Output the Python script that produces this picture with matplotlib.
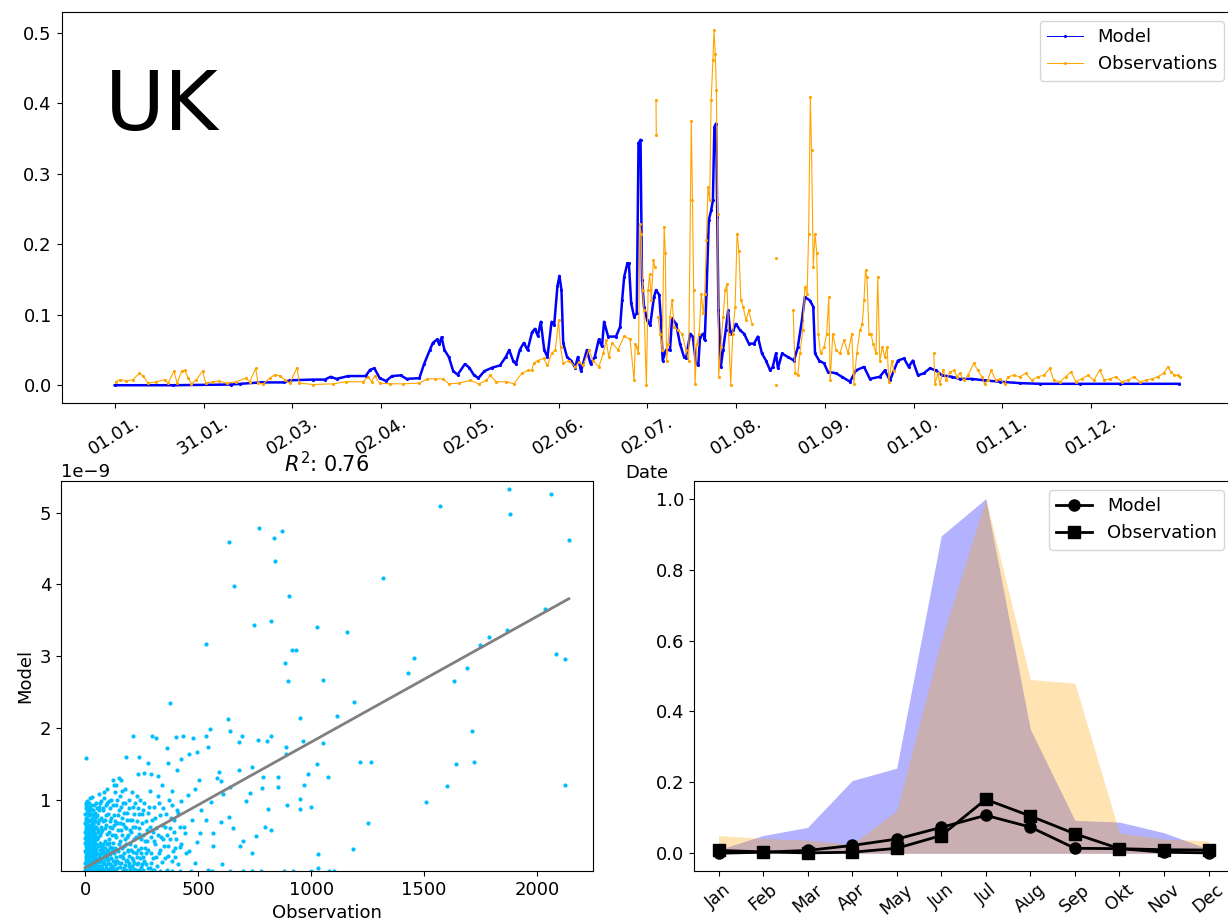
import numpy as np
import matplotlib
matplotlib.use('Agg')
import matplotlib.pyplot as plt

nan = np.nan

model_day = [0, 20, 40, 43, 50, 58, 60, 68, 72, 74, 76, 80, 86, 87.5, 89, 90.8, 93, 95, 98, 100,
             104.4, 106, 108, 109, 110.5, 111.2, 112, 113, 114.5, 116, 117.5, 120, 121.5, 123, 124.6,
             126.7, 129.4, 132, 134, 135.2, 136.5, 137.5, 138.8, 140.2, 141.5, 143, 144, 145, 146,
             147.2, 148.3, 149.7, 150.6, 151.7, 152.4, 153.1, 153.7, 155, 156.4, 157.8, 158.7, 159.8,
             161.8, 163.1, 164.5, 165.9, 167.0, 167.7, 169.1, 171.8, 173.2, 173.9, 174.6, 175.7, 176.2,
             177.0, 178.0, 178.9, 179.5, 180.2, 180.7, 181.4, 182.5, 183.5, 184.8, 185.5, 186.6, 187.2,
             187.8, 188.9, 190.3, 191.0, 192.4, 193.7, 195.1, 195.8, 197.2, 198.1, 199.2, 200.0, 200.6,
             201.7, 202.2, 202.8, 203.6, 204.4, 205.0, 205.5, 206.1, 206.5, 206.9, 207.7, 208.5, 209.4,
             210.2, 211.0, 212.0, 212.9, 214.3, 215.7, 217.3, 219.1, 220.4, 221.8, 223.2, 224.6, 225.5,
             226.6, 227.3, 228.7, 230.7, 232.8, 234.1, 235.5, 236.5, 238.3, 239.4, 240.0, 241.4, 243.1,
             244.4, 247.2, 249.2, 252.0, 254.0, 256.8, 258.8, 262.2, 263.9, 265.7, 268.4, 270.5, 272.1,
             273.5, 275.3, 277.3, 279.4, 281.4, 283.5, 286.9, 289.6, 293.7, 297.9, 303.3, 310.2, 317.0,
             330.7, 344.4, 364.9]
model_val = [0.0, 0.0, 0.001, 0.002, 0.004, 0.004, 0.007, 0.008, 0.008, 0.012, 0.009, 0.013, 0.013, 0.022,
             0.024, 0.01, 0.006, 0.013, 0.014, 0.009,
             0.01, 0.03, 0.05, 0.06, 0.065, 0.058, 0.068, 0.05, 0.04, 0.02, 0.015, 0.03, 0.025, 0.015, 0.01,
             0.02, 0.025, 0.028, 0.04, 0.05, 0.035, 0.03, 0.05, 0.06, 0.05, 0.075, 0.08, 0.07, 0.09,
             0.05, 0.04, 0.09, 0.085, 0.14, 0.155, 0.135, 0.06, 0.04, 0.035, 0.025, 0.04, 0.02,
             0.05, 0.03, 0.04, 0.065, 0.055, 0.09, 0.069, 0.069, 0.083, 0.121, 0.154, 0.173, 0.173,
             0.116, 0.097, 0.102, 0.343, 0.348, 0.149, 0.111, 0.092, 0.085, 0.125, 0.135, 0.128, 0.092,
             0.035, 0.05, 0.05, 0.095, 0.087, 0.059, 0.04, 0.038, 0.073, 0.069, 0.031, 0.028, 0.069,
             0.073, 0.064, 0.13, 0.234, 0.248, 0.262, 0.366, 0.371, 0.239, 0.106, 0.026, 0.05, 0.078,
             0.106, 0.073, 0.078, 0.087, 0.078, 0.073, 0.059, 0.059, 0.069, 0.045, 0.035, 0.021, 0.026,
             0.045, 0.024, 0.045, 0.04, 0.035, 0.054, 0.092, 0.125, 0.12, 0.111, 0.045, 0.035, 0.031,
             0.019, 0.017, 0.012, 0.005, 0.021, 0.026, 0.009, 0.012, 0.021, 0.007, 0.035, 0.038, 0.026,
             0.035, 0.014, 0.017, 0.024, 0.021, 0.014, 0.012, 0.009, 0.009, 0.007, 0.005, 0.003, 0.002,
             0.002, 0.002, 0.002]

obs_day = [0.3, 1.8, 4, 6.3, 8.4, 9.7, 11.5, 14.3, 17.2, 18.3, 20.3, 21.4, 22.9, 24, 25.2, 26.3, 28, 30.1,
           31.2, 33.7, 35.8, 38.3, 41.7, 44.9, 46.3, 48.3, 49.1, 50.9, 53.1, 54.9, 56.6, 58.3, 60, 62.5,
           63.2, 68, 74.8, 79.4, 85.1, 86.8, 88, 89.1, 90.8, 94.2, 98.8,
           104.4, 107.1, 109.8, 112.5, 114.5, 117.9, 121.9, 124.7, 127.4, 128.7, 130.7, 134.1, 136.8,
           139.5, 141.6, 142.9, 143.6, 144.9, 147.0, 148.3, 149.7, 151.0, 152.1, 152.8, 153.7, 155.8,
           157.8, 159.1, 160.5, 162.5, 163.9, 165.9,
           167.4, 168.4, 169.3, 170.4, 172.5, 174.6, 176.6, 178.0, 178.4, 178.9, 179.5, 180.0, 180.4,
           180.9, 181.4, 182.2, 182.8, 183.3, 183.9, 184.6, 185.1, 185.3, 185.5, 185.6, 185.8,
           186.2, 186.9, 187.6, 188.3, 188.7, 189.1, 189.6, 190.3, 191.0, 191.7, 193.0, 194.4, 195.8,
           196.7, 197.6, 198.0, 198.4, 198.9, 199.5, 200.3, 201.0, 201.7, 202.2, 202.8, 203.3, 203.9,
           204.4, 205.0, 205.4, 205.8, 206.2, 206.6, 207.0, 207.7, 208.5, 209.2, 209.8, 210.4, 211.1,
           211.8, 212.6, 213.3, 213.9, 214.6, 215.4, 216.3, 217.3, 218.4,
           222.0, 226.6, 226.65, 226.7, 229.0,
           232.5, 233.2, 234.1, 234.8, 235.8, 236.5, 237.3, 237.8, 238.4, 238.8, 239.4, 240.0, 240.6,
           241.1, 241.9, 243.1, 244.0, 244.7, 245.2, 246.1, 247.2, 248.5, 249.9, 251.3, 252.6, 253.3,
           254.3, 255.4, 256.2, 256.8, 257.3, 257.8, 258.5, 259.2, 259.9, 260.9, 261.5, 262.2, 263.1,
           263.9, 264.7, 265.3, 266.3, 267.0, 274.0,
           280.7, 281.1, 282.1, 282.8, 283.9, 285.0, 286.2, 287.6, 288.7, 289.6, 291.0, 292.4, 294.4,
           295.8, 297.2, 298.1, 299.2, 300.3, 302.0, 303.3, 305.0, 306.1, 308.1, 310.2, 312.2, 314.3,
           316.3, 318.4, 320.5, 321.8, 323.9, 325.9, 327.7, 329.4, 331.4, 333.5, 335.5, 337.6, 339.2,
           341.0, 343.1, 345.1, 347.2, 349.2, 351.3, 353.3, 355.4, 357.4, 359.5, 360.9, 362.0, 363.1,
           364.3, 365.0]
obs_val = [0.005, 0.008, 0.006, 0.008, 0.017, 0.013, 0.003, 0.005, 0.008, 0.003, 0.02, 0.003, 0.02, 0.021,
           0.01, 0.002, 0.008, 0.02, 0.003, 0.005, 0.006, 0.003, 0.005, 0.01, 0.005, 0.024, 0.003, 0.002,
           0.01, 0.015, 0.013, 0.008, 0.003, 0.025, 0.003, 0.001, 0.002, 0.005, 0.005, 0.012, 0.005,
           0.013, 0.003, 0.002, 0.002,
           0.003, 0.009, 0.009, 0.009, 0.002, 0.003, 0.007, 0.002, 0.007, 0.014, 0.005, 0.005, 0.002,
           0.017, 0.021, 0.021, 0.031, 0.035, 0.038, 0.028, 0.045, 0.05, 0.092, 0.054, 0.031, 0.035,
           0.026, 0.033, 0.028, 0.05, 0.035, 0.026,
           0.045, 0.064, 0.04, 0.06, 0.05, 0.07, 0.065, 0.007, 0.059, 0.054, 0.045, 0.229, 0.215,
           0.135, 0.106, 0.0, 0.135, 0.158, 0.121, 0.177, 0.168, nan, 0.404, 0.355, nan,
           0.097, 0.073, 0.05, 0.225, 0.187, 0.035, 0.059, 0.097, 0.121, 0.083, 0.078, 0.073, 0.05,
           0.035, 0.374, 0.262, 0.135, 0.002, 0.059, 0.073, 0.13, 0.102, 0.13, 0.206, 0.281, 0.262,
           0.404, 0.461, 0.504, 0.47, 0.418, 0.243, 0.012, 0.054, 0.097, 0.135, 0.144, 0.073, 0.0,
           0.073, 0.111, 0.215, 0.191, 0.121, 0.111, 0.092, 0.106, 0.087,
           nan, 0.18, nan, 0.0, nan,
           0.106, 0.017, 0.014, 0.045, 0.078, 0.139, 0.13, 0.215, 0.409, 0.333, 0.168, 0.215, 0.187,
           0.073, 0.045, 0.054, 0.073, 0.125, 0.007, 0.073, 0.05, 0.045, 0.064, 0.045, 0.073, 0.002,
           0.045, 0.078, 0.087, 0.121, 0.163, 0.154, 0.073, 0.073, 0.059, 0.045, 0.154, 0.035, 0.054,
           0.04, 0.054, 0.005, 0.035, 0.02, nan,
           0.045, 0.002, 0.017, 0.002, 0.021, 0.007, 0.019, 0.021, 0.012, 0.017, 0.007, 0.014, 0.031,
           0.021, 0.012, 0.002, 0.007, 0.021, 0.007, 0.009, 0.002, 0.012, 0.014, 0.012, 0.017, 0.007,
           0.012, 0.014, 0.024, 0.007, 0.005, 0.012, 0.019, 0.005, 0.009, 0.014, 0.007, 0.021, 0.007,
           0.009, 0.012, 0.005, 0.007, 0.012, 0.005, 0.007, 0.009, 0.012, 0.017, 0.026, 0.019, 0.014,
           0.014, 0.012]

tick_labels = ['01.01.', '31.01.', '02.03.', '02.04.', '02.05.', '02.06.',
               '02.07.', '01.08.', '01.09.', '01.10.', '01.11.', '01.12.']

# ---- bottom left: scatter (observation, model in 1e-9) ----
scatter_pts = [
    # dense core
    (1, 0.02), (3, 0.08), (2, 0.15), (4, 0.22), (1, 0.29), (3, 0.36), (2, 0.43), (5, 0.5), (2, 0.58),
    (4, 0.65), (8, 0.03), (9, 0.11), (7, 0.18), (10, 0.25), (8, 0.32), (9, 0.39), (7, 0.46), (10, 0.55),
    (8, 0.62), (14, 0.05), (15, 0.12), (13, 0.2), (16, 0.27), (14, 0.34), (15, 0.41), (13, 0.48),
    (20, 0.02), (21, 0.09), (19, 0.16), (22, 0.23), (20, 0.3), (21, 0.37), (19, 0.44), (27, 0.04),
    (26, 0.12), (28, 0.19), (27, 0.26), (26, 0.33), (28, 0.4), (33, 0.02), (34, 0.09), (32, 0.16),
    (35, 0.23), (33, 0.3), (34, 0.37), (32, 0.44), (40, 0.05), (41, 0.12), (39, 0.2), (42, 0.27),
    (40, 0.34), (41, 0.41), (47, 0.03), (48, 0.1), (46, 0.17), (49, 0.24), (47, 0.31), (48, 0.38),
    (5, 0.06), (11, 0.14), (17, 0.07), (24, 0.17), (30, 0.1), (37, 0.28), (44, 0.15), (6, 0.33),
    (12, 0.42), (23, 0.35), (36, 0.06), (45, 0.45),
    (0, 0.01), (1, 0.12), (2, 0.26), (0, 0.4), (1, 0.47), (3, 0.19), (4, 0.05), (5, 0.3), (6, 0.13),
    (6, 0.45), (7, 0.24), (8, 0.08), (9, 0.35), (10, 0.17), (10, 0.42), (11, 0.03), (11, 0.28),
    (12, 0.21), (12, 0.5), (13, 0.1), (14, 0.38), (16, 0.15), (16, 0.45), (17, 0.31), (18, 0.02),
    (18, 0.22), (19, 0.36), (21, 0.13), (22, 0.42), (23, 0.06), (23, 0.28), (24, 0.48), (25, 0.2),
    (25, 0.38), (26, 0.07), (28, 0.3), (29, 0.14), (29, 0.45), (30, 0.24), (31, 0.37), (32, 0.05),
    (35, 0.15), (36, 0.42), (37, 0.2), (38, 0.33), (39, 0.1), (42, 0.2), (43, 0.44), (44, 0.08), (45, 0.3),
    # upper halo of the core
    (3, 0.72), (6, 0.8), (2, 0.88), (5, 0.95), (9, 0.7), (12, 0.78), (11, 0.9), (15, 0.55), (17, 0.63),
    (18, 0.72), (16, 0.85), (20, 1.02), (23, 0.52), (25, 0.6), (24, 0.7), (27, 0.8), (26, 0.92),
    (30, 1.04), (31, 0.5), (33, 0.58), (35, 0.66), (32, 0.75), (36, 0.86), (38, 0.55), (42, 0.62),
    (40, 0.72), (44, 0.82), (46, 0.95), (45, 0.48), (52, 0.45), (55, 0.55), (58, 0.68), (54, 0.78),
    (60, 0.9), (62, 1.08), (65, 0.5), (68, 0.62), (70, 0.75), (72, 0.98), (75, 0.58), (78, 0.7),
    (80, 0.85), (85, 1.1), (88, 0.6), (92, 0.78), (95, 0.95), (98, 0.52),
    (0, 0.55), (1, 0.68), (0, 0.8), (2, 0.93), (3, 0.6), (4, 0.75), (6, 0.52), (7, 0.66), (7, 0.85),
    (9, 0.58), (10, 0.98), (11, 0.63), (13, 0.72), (13, 0.58), (14, 0.83), (15, 0.95), (17, 0.5),
    (19, 0.78), (20, 0.6), (21, 0.88), (22, 0.7), (24, 0.56), (26, 0.64), (28, 0.55), (29, 0.72),
    (30, 0.86), (33, 0.68), (34, 0.5), (37, 0.6), (38, 0.78), (40, 0.92), (42, 0.52), (43, 0.7),
    (47, 0.6), (48, 0.76), (50, 0.62), (53, 0.88), (56, 0.48), (58, 0.58), (60, 0.72),
    # 50 - 300, low model values
    (52, 0.05), (55, 0.15), (53, 0.25), (57, 0.35), (60, 0.08), (62, 0.2), (64, 0.3), (66, 0.4),
    (70, 0.03), (72, 0.14), (74, 0.26), (76, 0.36), (80, 0.1), (82, 0.22), (84, 0.33), (86, 0.42),
    (90, 0.05), (92, 0.17), (95, 0.28), (98, 0.38), (102, 0.12), (105, 0.24), (108, 0.04), (110, 0.34),
    (115, 0.18), (118, 0.08), (120, 0.28), (125, 0.4), (128, 0.14), (130, 0.02),
    (61, 0.02), (63, 0.13), (65, 0.24), (67, 0.35), (69, 0.08), (71, 0.19), (73, 0.31), (75, 0.05),
    (77, 0.15), (79, 0.27), (81, 0.38), (83, 0.02), (85, 0.12), (87, 0.25), (89, 0.33), (93, 0.09),
    (96, 0.2), (99, 0.02), (100, 0.3), (103, 0.16), (106, 0.4), (109, 0.1), (112, 0.24), (114, 0.02),
    (117, 0.33), (121, 0.15), (123, 0.05), (126, 0.25), (131, 0.32), (133, 0.1), (136, 0.2), (139, 0.04),
    (142, 0.14), (145, 0.28), (149, 0.38), (152, 0.06), (156, 0.22), (159, 0.12), (162, 0.33),
    (166, 0.02), (169, 0.18), (173, 0.26), (176, 0.09), (179, 0.38), (182, 0.02), (186, 0.16),
    (188, 0.3), (193, 0.12), (196, 0.22), (199, 0.03), (203, 0.3), (206, 0.08), (210, 0.16),
    (213, 0.27), (217, 0.12), (220, 0.36), (224, 0.02), (228, 0.2), (231, 0.1), (235, 0.3), (238, 0.02),
    (242, 0.18), (246, 0.25), (250, 0.1), (255, 0.02), (262, 0.15), (270, 0.25), (278, 0.05),
    (290, 0.12), (300, 0.02),
    # 60 - 250, higher model values
    (105, 0.55), (110, 0.7), (112, 0.88), (115, 1.0), (120, 0.6), (125, 1.27), (128, 0.78), (132, 0.5),
    (135, 0.92), (138, 1.2), (140, 0.3), (143, 0.68), (148, 0.85), (150, 0.12), (152, 1.05), (155, 0.42),
    (158, 0.58), (160, 1.27), (163, 0.22), (165, 0.75), (168, 0.95), (170, 0.05), (172, 0.35),
    (175, 0.62), (178, 1.15), (180, 0.15), (183, 0.48), (185, 0.82), (190, 0.28), (192, 1.0), (195, 0.07),
    (198, 0.58), (200, 0.38), (205, 0.72), (208, 0.18), (212, 0.9), (215, 0.45), (218, 0.03),
    (222, 0.62), (225, 0.25), (230, 1.05), (233, 0.12), (236, 0.52), (240, 0.8), (245, 0.33), (248, 0.06),
    (63, 0.85), (67, 0.95), (72, 0.55), (77, 0.88), (82, 1.02), (87, 0.72), (90, 0.92), (94, 0.65),
    (97, 1.15), (101, 0.8), (104, 0.45), (107, 0.98), (111, 0.62), (116, 0.75), (118, 0.5), (122, 0.92),
    (127, 0.65), (130, 1.1), (134, 0.7), (137, 0.48), (141, 1.0), (145, 0.58), (147, 0.78), (153, 0.68),
    (157, 0.9), (161, 0.5), (164, 1.12), (167, 0.66), (171, 0.82), (174, 0.45), (177, 0.95), (181, 0.6),
    (186, 0.72), (189, 0.5), (194, 0.88), (197, 0.72), (202, 0.55), (207, 1.1), (211, 0.62), (216, 0.8),
    (221, 0.95), (226, 0.48), (229, 0.7), (234, 0.88), (239, 0.6), (243, 1.0), (247, 0.45), (251, 0.8),
    (126, 1.2), (150, 1.3),
    # 250 - 450
    (252, 0.68), (256, 0.2), (260, 0.95), (264, 0.42), (268, 0.1), (272, 0.58), (276, 0.82), (280, 0.3),
    (285, 1.12), (288, 0.05), (292, 0.48), (296, 0.72), (300, 0.18), (305, 0.9), (310, 0.38), (315, 0.6),
    (318, 0.08), (322, 1.05), (326, 0.25), (330, 0.78), (335, 0.48), (340, 0.13), (345, 0.88),
    (350, 0.35), (355, 0.62), (360, 0.02), (365, 0.22), (370, 1.0), (375, 0.45), (380, 0.75), (386, 0.15),
    (392, 0.55), (398, 0.32), (405, 0.85), (410, 0.1), (418, 0.62),
    (254, 0.5), (258, 0.85), (263, 0.32), (267, 0.7), (274, 0.42), (281, 0.9), (287, 0.62), (293, 0.25),
    (298, 0.55), (303, 0.42), (308, 0.75), (313, 0.2), (320, 0.5), (327, 0.95), (333, 0.3), (338, 0.65),
    (343, 0.45), (352, 0.18), (358, 0.8), (363, 0.5), (368, 0.35), (377, 0.6), (383, 0.92), (389, 0.28),
    (395, 0.72), (402, 0.45), (412, 0.82), (425, 0.38), (436, 0.62), (448, 0.25),
    (330, 0.0), (420, 0.0), (470, 0.01), (560, 0.0), (700, 0.0), (780, 0.01), (920, 0.0), (1000, 0.0),
    (1100, 0.0),
    # middle range
    (1024, 1.49), (985, 1.36), (970, 1.20), (950, 1.01), (1000, 0.90), (951, 0.87), (807, 0.87),
    (852, 1.18), (783, 1.16), (731, 1.09), (711, 0.98), (642, 1.18), (600, 1.26), (591, 1.38),
    (584, 1.30), (505, 1.28), (485, 1.15), (456, 1.07), (424, 0.98), (384, 1.12), (340, 1.20),
    (320, 1.33), (291, 1.36), (259, 1.37), (232, 1.35), (276, 1.51), (239, 1.59), (367, 1.51),
    (424, 1.57), (406, 1.41), (458, 1.64), (495, 1.67), (544, 1.73), (679, 1.41), (736, 1.46),
    (788, 1.32), (854, 1.32), (889, 1.64), (892, 0.93), (1076, 1.31), (795, 0.62), (823, 0.57),
    (754, 0.49), (697, 0.43), (635, 0.76), (600, 0.69), (567, 0.53), (653, 0.60), (685, 0.36),
    (736, 0.25), (564, 0.36), (495, 0.41), (509, 0.53), (534, 0.71), (556, 0.97), (610, 1.08),
    (514, 0.85), (472, 0.71), (441, 0.53), (418, 0.34), (399, 0.20), (461, 0.29), (487, 0.11),
    (542, 0.02), (643, 0.01), (736, 0.01), (879, 0.01), (1081, 0.01), (382, 0.01), (306, 0.02),
    # outliers
    (1877, 5.33), (2063, 5.26), (1570, 5.09), (1881, 4.98), (2140, 4.62), (770, 4.78), (872, 4.74),
    (834, 4.64), (638, 4.59), (839, 4.33), (1319, 4.09), (657, 3.97), (901, 3.84), (2036, 3.65),
    (749, 3.44), (823, 3.49), (1024, 3.40), (1157, 3.34), (1866, 3.37), (1788, 3.27), (1746, 3.15),
    (534, 3.17), (913, 3.09), (931, 3.08), (2083, 3.03), (2122, 2.96), (1453, 2.98), (884, 2.91),
    (1689, 2.83), (1428, 2.77), (898, 2.65), (1052, 2.67), (1632, 2.65), (376, 2.34), (1189, 2.36),
    (950, 2.14), (1115, 2.17), (631, 2.13), (1711, 1.96), (640, 1.96), (212, 1.89), (295, 1.89),
    (313, 1.86), (434, 1.88), (404, 1.87), (477, 1.86), (536, 1.89), (552, 1.98), (694, 1.88),
    (763, 1.83), (820, 1.88), (803, 1.81), (963, 1.82), (1052, 1.79), (682, 1.80), (5, 1.58),
    (180, 1.60), (364, 1.72), (889, 1.73), (1721, 1.52), (1265, 1.52), (1218, 1.52), (1640, 1.50),
    (1603, 1.19), (2122, 1.20), (1507, 0.97), (1250, 0.68), (1187, 0.31), (1031, 0.24), (1031, 0.05),
    (606, 0.10),
]
fit_slope = 0.001752     # 1e-9 per observation unit
fit_intercept = 0.05     # 1e-9
r2 = 0.76

# ---- bottom right: monthly means ----
months = ['Jan', 'Feb', 'Mar', 'Apr', 'May', 'Jun', 'Jul', 'Aug', 'Sep', 'Okt', 'Nov', 'Dec']
model_month = [0.0, 0.003, 0.008, 0.022, 0.04, 0.073, 0.107, 0.074, 0.014, 0.013, 0.003, 0.001]
obs_month = [0.008, 0.004, 0.001, 0.003, 0.014, 0.05, 0.152, 0.105, 0.055, 0.013, 0.01, 0.009]
model_band = [0.01, 0.05, 0.073, 0.205, 0.24, 0.895, 1.0, 0.35, 0.093, 0.088, 0.058, 0.012]
obs_band = [0.05, 0.042, 0.037, 0.025, 0.12, 0.6, 1.0, 0.49, 0.48, 0.057, 0.04, 0.035]

plt.rcParams['font.size'] = 13

W, H = 1228, 924
fig = plt.figure(figsize=(W / 100, H / 100), dpi=100)

def box(l, t, r, b):
    return [l / W, 1 - b / H, (r - l) / W, (b - t) / H]

# top panel
ax = fig.add_axes(box(61.5, 12, 1233, 403))
ax.plot(np.array(model_day) * 24, model_val, color='blue', marker='.', ms=2.5, lw=1.8, label='Model')
ax.plot(np.array(obs_day) * 24, obs_val, color='orange', marker='.', ms=2.5, lw=0.8, label='Observations')
ax.set_xticks(np.arange(len(tick_labels)) * 730)
ax.set_xticklabels(tick_labels, rotation=32, ha='center')
ax.set_xlabel('Date')
ax.text(0.037, 0.698, 'UK', transform=ax.transAxes, fontsize=59, va='baseline')
leg = ax.legend(loc='upper right')
for ln in leg.get_lines():
    ln.set_linewidth(0.7)

# scatter
pts = np.array(scatter_pts)
ax2 = fig.add_axes(box(61, 481, 593, 871))
ax2.scatter(pts[:, 0], pts[:, 1] * 1e-9, s=9, color='deepskyblue', linewidths=0)
xl = np.array([0, pts[:, 0].max()])
ax2.plot(xl, (fit_intercept + fit_slope * xl) * 1e-9, color='grey', lw=2)
ax2.set_ylim(0.005e-9, 5.44e-9)
ax2.set_xlabel('Observation')
ax2.set_ylabel('Model')
ax2.set_title('$R^2$: %.2f' % r2, fontsize=15)

# monthly
x = np.arange(len(months))
ax3 = fig.add_axes(box(694, 481, 1233, 871))
ax3.fill_between(x, 0, model_band, color='blue', alpha=0.3, lw=0)
ax3.fill_between(x, 0, obs_band, color='orange', alpha=0.3, lw=0)
ax3.plot(x, model_month, color='black', marker='o', ms=8, lw=2, label='Model')
ax3.plot(x, obs_month, color='black', marker='s', ms=8, lw=2, label='Observation')
ax3.set_xticks(x)
ax3.set_xticklabels(months, rotation=40, ha='center', fontsize=12.5)
ax3.legend(loc='upper right')

fig.savefig('out.png', dpi=100)
